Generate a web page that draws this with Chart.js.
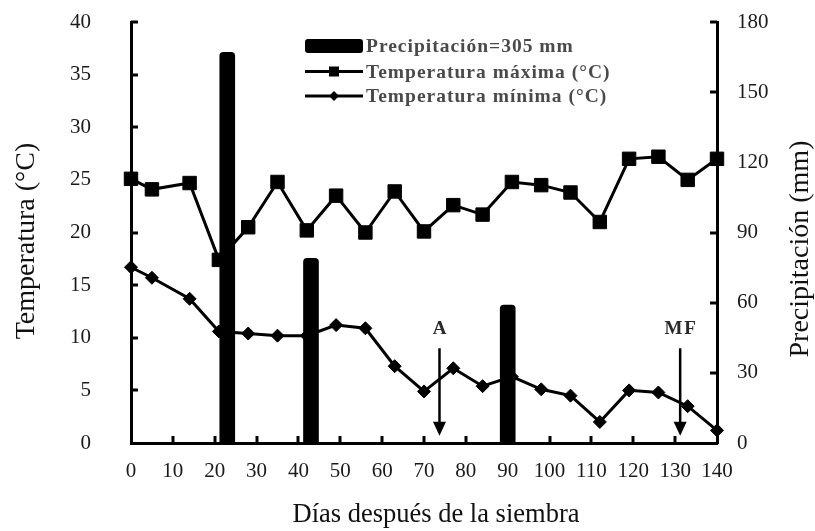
<!DOCTYPE html>
<html>
<head>
<meta charset="utf-8">
<script src="https://cdn.jsdelivr.net/npm/chart.js@4.4.0/dist/chart.umd.min.js"></script>
<style>
  html, body { margin: 0; padding: 0; background: #fff; }
  #chart { display: block; }
</style>
</head>
<body>
<canvas id="chart" width="815" height="531"></canvas>
<script>
// values
const tempDays = [0, 5, 14, 21, 28, 35, 42, 49, 56, 63, 70, 77, 84, 91, 98, 105, 112, 119, 126, 133, 140];
const maxTemp = [25.1, 24.1, 24.7, 17.4, 20.5, 24.8, 20.2, 23.5, 20.0, 23.9, 20.1, 22.6, 21.7, 24.8, 24.5, 23.8, 21.0, 27.0, 27.2, 25.0, 27.0];
const minTemp = [16.7, 15.7, 13.7, 10.6, 10.4, 10.2, 10.2, 11.2, 10.9, 7.3, 4.9, 7.1, 5.4, 6.3, 5.1, 4.5, 2.0, 5.0, 4.8, 3.5, 1.2];
const rainDays = [23, 43, 90];
const rainMm = [167, 79, 59];
const stageLabels = ['A', 'MF'];
const stageDays = [73.7, 131.2];
const legendLabels = ['Precipitación=305 mm', 'Temperatura máxima (°C)', 'Temperatura mínima (°C)'];

const SERIF = "'Liberation Serif', 'Times New Roman', serif";

const toXY = (xs, ys) => xs.map((x, i) => ({ x: x, y: ys[i] }));

// inward ticks, arrows, legend and axis titles
const extras = {
    id: 'extras',
    afterDraw(chart) {
        const { ctx, chartArea: a } = chart;
        const x = chart.scales.x, y = chart.scales.y, yP = chart.scales.yP;
        ctx.save();
        ctx.strokeStyle = '#000';
        ctx.lineWidth = 3;
        ctx.beginPath();
        x.ticks.forEach(t => {
            if (t.value <= 0 || t.value >= 140) return;
            const px = Math.round(x.getPixelForValue(t.value));
            ctx.moveTo(px, a.bottom); ctx.lineTo(px, a.bottom - 7);
        });
        y.ticks.forEach(t => {
            if (t.value <= 0) return;
            const py = Math.round(y.getPixelForValue(t.value));
            ctx.moveTo(a.left, py); ctx.lineTo(a.left + 7, py);
        });
        yP.ticks.forEach(t => {
            if (t.value <= 0) return;
            const py = Math.round(yP.getPixelForValue(t.value));
            ctx.moveTo(a.right, py); ctx.lineTo(a.right - 7, py);
        });
        ctx.stroke();

        // stage arrows
        ctx.fillStyle = '#000';
        ctx.lineWidth = 2.5;
        stageDays.forEach((d, i) => {
            const px = x.getPixelForValue(d);
            const top = y.getPixelForValue(9.0);
            const tip = y.getPixelForValue(0.7);
            ctx.beginPath();
            ctx.moveTo(px, top); ctx.lineTo(px, tip - 12);
            ctx.stroke();
            ctx.beginPath();
            ctx.moveTo(px - 6.5, tip - 14); ctx.lineTo(px + 6.5, tip - 14); ctx.lineTo(px, tip);
            ctx.closePath(); ctx.fill();
            ctx.font = 'bold 19px ' + SERIF;
            ctx.fillStyle = '#2a2a2a';
            ctx.textAlign = 'center';
            ctx.textBaseline = 'middle';
            ctx.letterSpacing = '2px';
            ctx.fillText(stageLabels[i], px + 1, top - 19);
            ctx.letterSpacing = '0px';
            ctx.fillStyle = '#000';
        });

        // legend
        const lx = 305, lw = 58, rows = [46, 71.5, 96];
        ctx.beginPath();
        ctx.roundRect(lx, rows[0] - 7, lw, 14, 3);
        ctx.fill();
        ctx.lineWidth = 3;
        [1, 2].forEach(r => {
            ctx.beginPath();
            ctx.moveTo(lx, rows[r]); ctx.lineTo(lx + lw, rows[r]);
            ctx.stroke();
        });
        const cx = lx + lw / 2;
        ctx.fillRect(cx - 5, rows[1] - 5, 10, 10);
        ctx.beginPath();
        ctx.moveTo(cx, rows[2] - 5); ctx.lineTo(cx + 5, rows[2]);
        ctx.lineTo(cx, rows[2] + 5); ctx.lineTo(cx - 5, rows[2]);
        ctx.closePath(); ctx.fill();
        ctx.font = 'bold 19.5px ' + SERIF;
        ctx.fillStyle = '#4a4a4a';
        ctx.textAlign = 'left';
        ctx.textBaseline = 'middle';
        ctx.letterSpacing = '1px';
        legendLabels.forEach((s, i) => ctx.fillText(s, lx + 61, rows[i] + 1));
        ctx.letterSpacing = '0px';

        // axis titles
        ctx.fillStyle = '#111';
        ctx.font = '26.5px ' + SERIF;
        ctx.textAlign = 'center';
        ctx.fillText('Días después de la siembra', 436, 515);
        ctx.font = '28px ' + SERIF;
        ctx.save();
        ctx.translate(27, 241);
        ctx.rotate(-Math.PI / 2);
        ctx.fillText('Temperatura (°C)', 0, 0);
        ctx.restore();
        ctx.save();
        ctx.translate(801, 249);
        ctx.rotate(-Math.PI / 2);
        ctx.fillText('Precipitación (mm)', 0, 0);
        ctx.restore();
        ctx.restore();
    }
};

const tickFont = { family: SERIF, size: 21 };

new Chart(document.getElementById('chart'), {
    type: 'bar',
    data: {
        datasets: [
            {
                type: 'bar',
                label: legendLabels[0],
                data: toXY(rainDays, rainMm),
                yAxisID: 'yP',
                backgroundColor: '#000',
                barThickness: 15,
                borderRadius: { topLeft: 4, topRight: 4 },
                borderSkipped: 'start',
                order: 1
            },
            {
                type: 'line',
                label: legendLabels[1],
                data: toXY(tempDays, maxTemp),
                yAxisID: 'y',
                borderColor: '#000',
                borderWidth: 3,
                backgroundColor: '#000',
                pointStyle: 'rect',
                pointRadius: 9.5,
                pointBorderWidth: 1,
                tension: 0,
                clip: false,
                order: 2
            },
            {
                type: 'line',
                label: legendLabels[2],
                data: toXY(tempDays, minTemp),
                yAxisID: 'y',
                borderColor: '#000',
                borderWidth: 3,
                backgroundColor: '#000',
                pointStyle: 'rectRot',
                pointRadius: 6.5,
                pointBorderWidth: 1,
                tension: 0,
                clip: false,
                order: 2
            }
        ]
    },
    options: {
        responsive: false,
        animation: false,
        layout: { padding: { top: 22, left: 0, right: 0, bottom: 0 }, autoPadding: false },
        plugins: { legend: { display: false }, tooltip: { enabled: false } },
        scales: {
            x: {
                type: 'linear',
                offset: false,
                min: 0, max: 140,
                ticks: { stepSize: 10, font: tickFont, color: '#1a1a1a', padding: 16, maxRotation: 0 },
                grid: { display: false, drawTicks: false, offset: false },
                border: { color: '#000', width: 3 },
                afterFit: s => { s.height = 88; }
            },
            y: {
                position: 'left',
                min: 0, max: 40,
                ticks: { stepSize: 5, font: tickFont, color: '#1a1a1a', padding: 3 },
                grid: { display: false, drawTicks: true, tickLength: 37 },
                border: { color: '#000', width: 3 },
                afterFit: s => { s.width = 131; }
            },
            yP: {
                position: 'right',
                min: 0, max: 180,
                ticks: { stepSize: 30, font: tickFont, color: '#1a1a1a', padding: 3 },
                grid: { display: false, drawTicks: true, tickLength: 17 },
                border: { color: '#000', width: 3 },
                afterFit: s => { s.width = 98; }
            }
        }
    },
    plugins: [extras]
});
</script>
</body>
</html>
